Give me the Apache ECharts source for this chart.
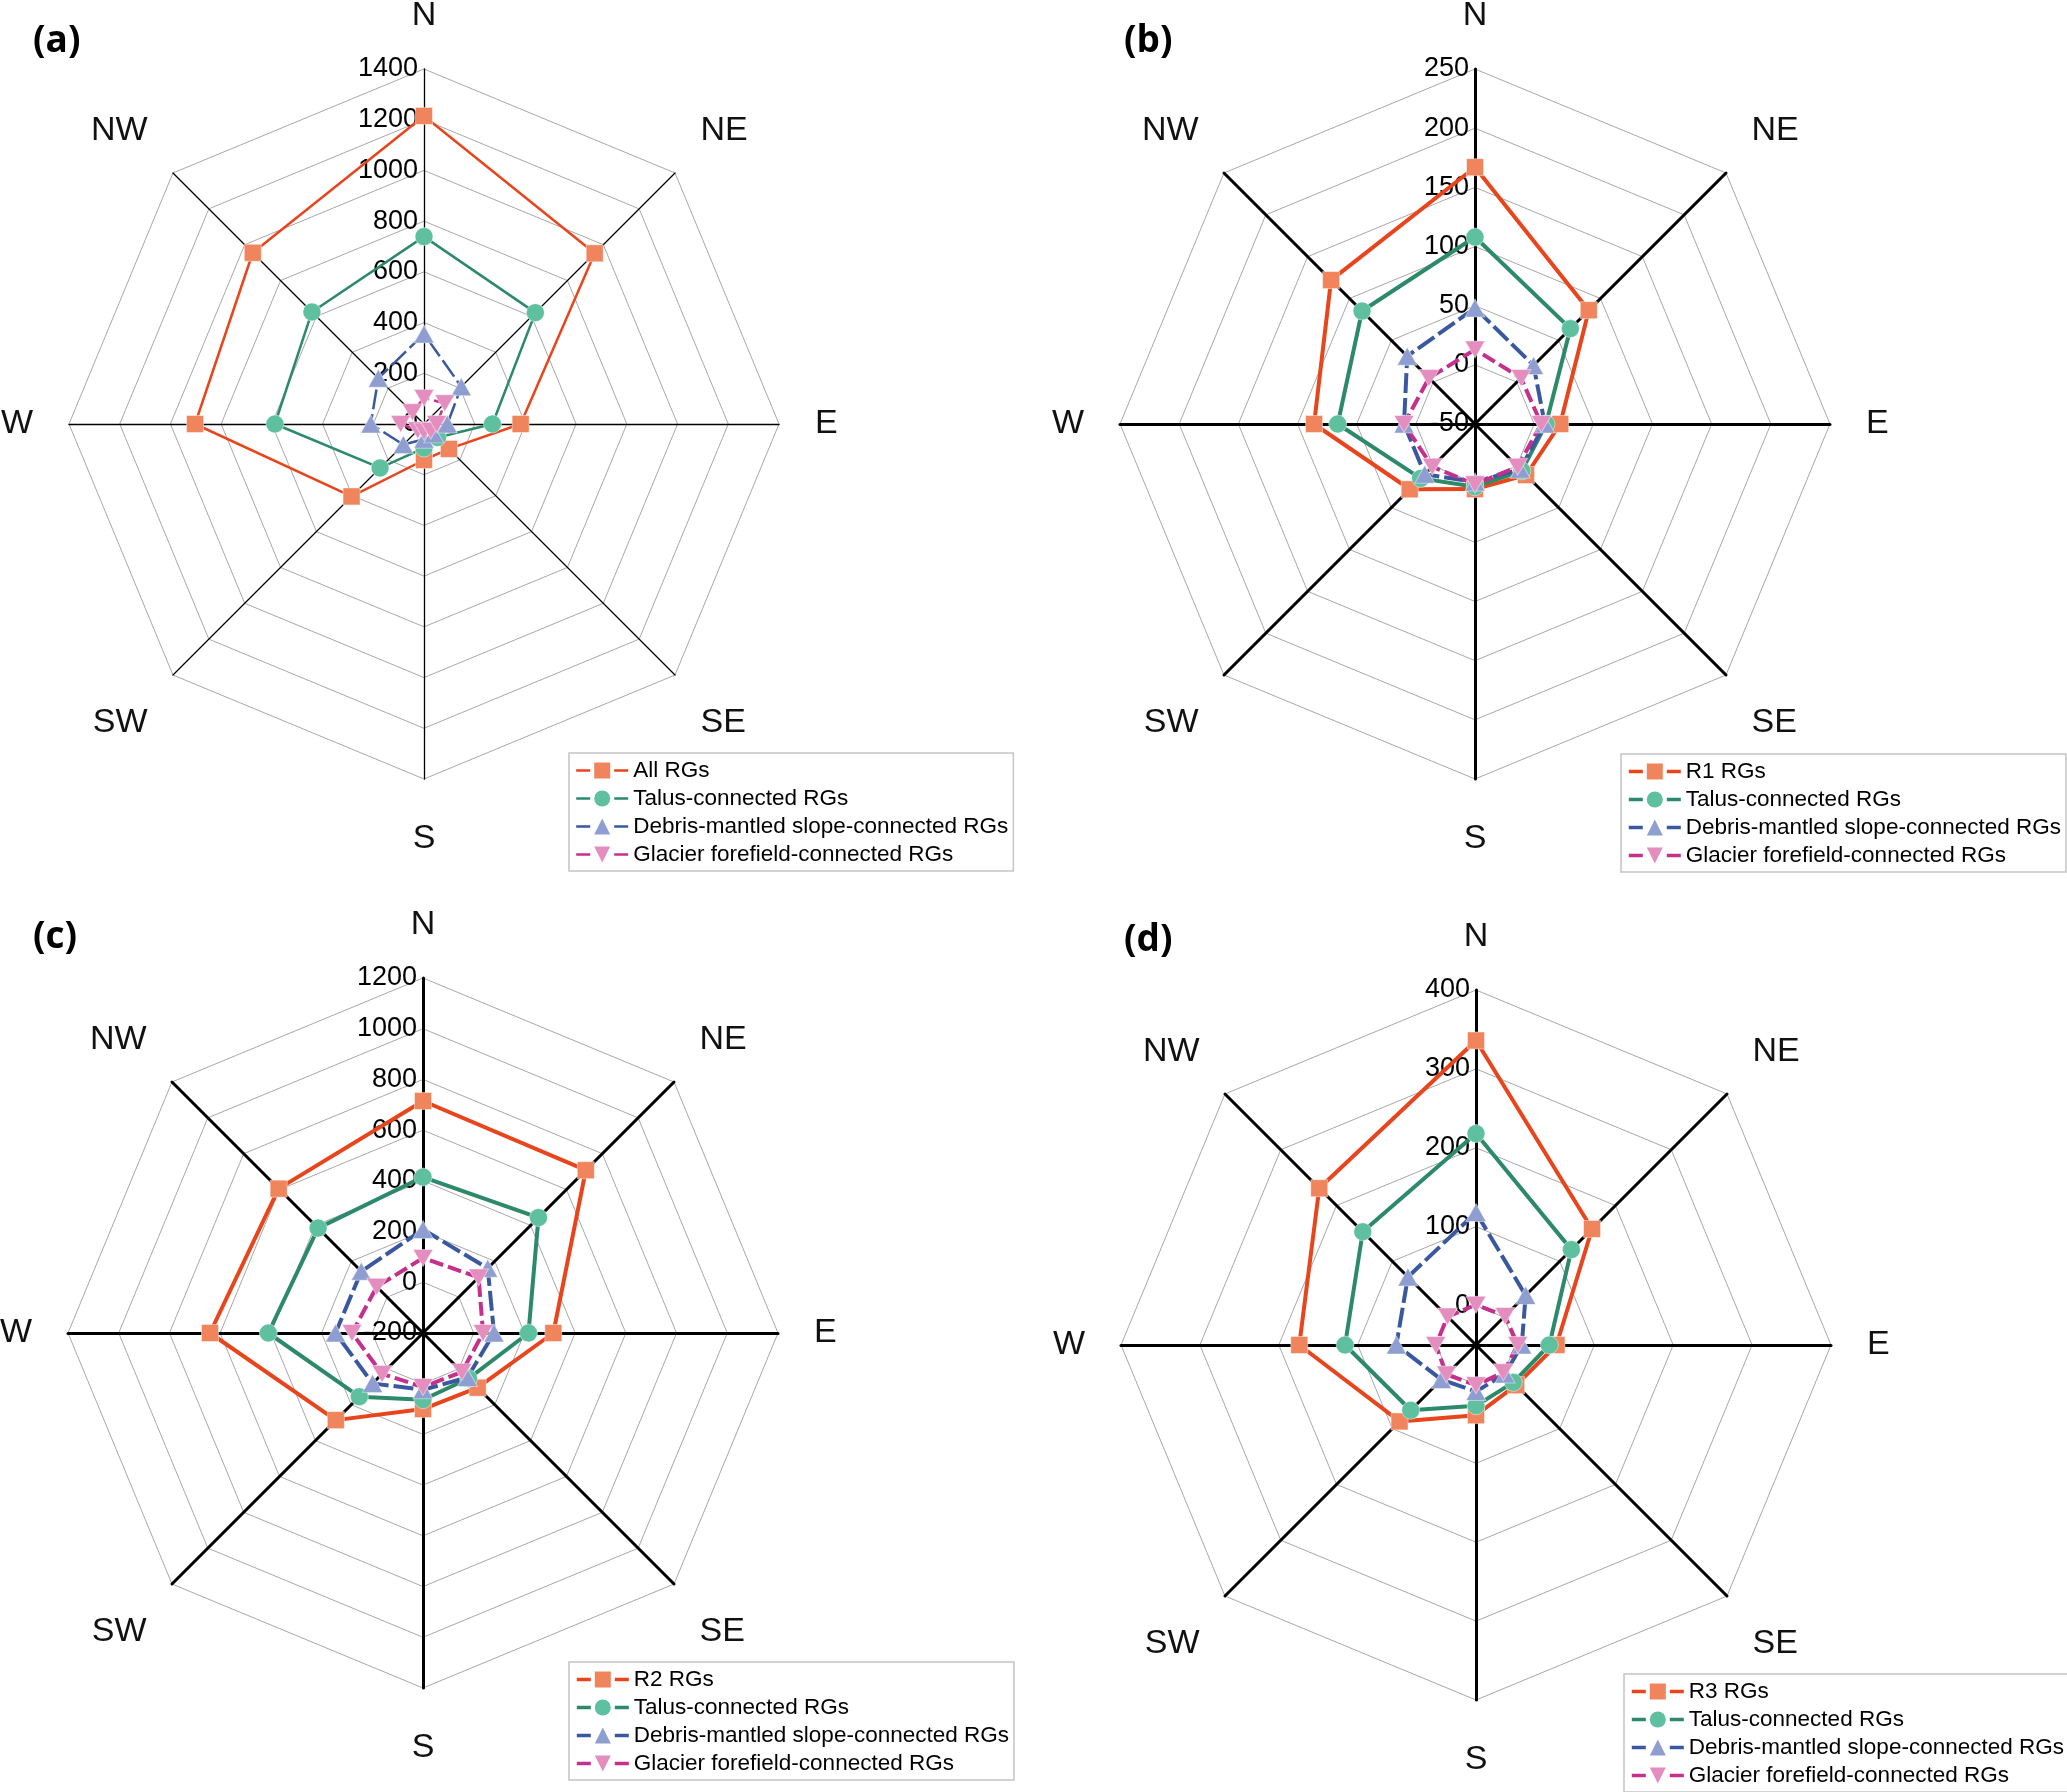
<!DOCTYPE html>
<html><head><meta charset="utf-8">
<script src="https://cdn.jsdelivr.net/npm/echarts@6/dist/echarts.min.js"></script>
<style>html,body{margin:0;padding:0;background:#fff}#c{width:2067px;height:1792px}</style>
</head><body><div id="c"></div>
<script>
// Compass order of every value array: N, NE, E, SE, S, SW, W, NW
const directions = ['N', 'NE', 'E', 'SE', 'S', 'SW', 'W', 'NW'];
const panelLetters = ['(a)', '(b)', '(c)', '(d)'];
const totalNames = ['All RGs', 'R1 RGs', 'R2 RGs', 'R3 RGs'];
const groupNames = ['Talus-connected RGs', 'Debris-mantled slope-connected RGs', 'Glacier forefield-connected RGs'];

const aAll     = [1215, 952, 381, 139, 142, 404, 903, 955];
const aTalus   = [739, 621, 270, 75, 95, 245, 588, 625];
const aDebris  = [355, 208, 92, 55, 60, 115, 210, 255];
const aGlacier = [103, 116, 50, 38, 30, 35, 92, 65];

const bAll     = [167, 86, 22, 11, 5, 28, 86, 122];
const bTalus   = [108, 64, 10, 6, 3, 15, 66, 85];
const bDebris  = [48, 20, 9, 4, -1, 10, 10, 31];
const bGlacier = [13, 5, 6, 1, 1, 1, 10, 5];

const cAll     = [715, 708, 314, 105, 100, 286, 640, 605];
const cTalus   = [415, 444, 216, 54, 63, 155, 410, 385];
const cDebris  = [208, 161, 80, 48, 24, 81, 145, 144];
const cGlacier = [96, 110, 37, 17, 13, 28, 80, 58];

const dAll     = [336, 158, 52, 22, 39, 87, 174, 231];
const dTalus   = [218, 121, 43, 17, 27, 67, 116, 153];
const dDebris  = [118, 39, 8, 2, 9, 12, 51, 72];
const dGlacier = [1, 2, 3, -1, 1, 3, 1, 1];

const axisMin = [0, -50, -200, -50];
const axisMax = [1400, 250, 1200, 400];
const splitCounts = [7, 6, 7, 9];
const tickLabelsA = ['0', '200', '400', '600', '800', '1000', '1200', '1400'];
const tickLabelsB = ['-50', '0', '50', '100', '150', '200', '250'];
const tickLabelsC = ['-200', '0', '200', '400', '600', '800', '1000', '1200'];
const tickLabelsD = ['0', '100', '200', '300', '400'];

const panelValues = [
  [aAll, aTalus, aDebris, aGlacier],
  [bAll, bTalus, bDebris, bGlacier],
  [cAll, cTalus, cDebris, cGlacier],
  [dAll, dTalus, dDebris, dGlacier]
];
const panelTicks = [tickLabelsA, tickLabelsB, tickLabelsC, tickLabelsD];

// ---- layout & style (not data) ----
const centers = [[424, 424], [1475, 424], [423, 1333], [1476, 1345]];
const radius = 355;
const titlePos = [[28, 18], [1119, 18], [28, 914], [1119, 917]];
const legendPos = [[569, 753], [1621, 754], [569, 1662], [1624, 1674]];
const FONT = '"Liberation Sans", Arial, sans-serif';
const lineColors = ['#E8451C', '#2C8A68', '#3A58A0', '#C4308A'];
const markColors = ['#F0845C', '#5EC09E', '#8E9ED0', '#E38EBE'];
const symbols = ['rect', 'circle', 'triangle', 'path://M0,0 L10,0 L5,9 Z'];
const symbolSizes = [17, 18, [20, 18], [20, 17]];
const dashes = ['solid', 'solid', [20, 5], [14, 5]];
// radar places indicators counter-clockwise starting at the top
const radarOrder = [0, 7, 6, 5, 4, 3, 2, 1];
const reorder = arr => radarOrder.map(i => arr[i]);

const chart = echarts.init(document.getElementById('c'), null, {renderer: 'canvas'});

const nameStyle = {fontSize: 34, fontFamily: FONT, color: '#111'};
const radars = [], series = [], legends = [], titles = [];
for (let p = 0; p < 4; p++) {
  const thin = p === 0;
  const ticks = panelTicks[p];
  radars.push({
    center: centers[p], radius: radius, startAngle: 90, shape: 'polygon',
    splitNumber: splitCounts[p],
    nameGap: 36,
    axisName: Object.assign({}, nameStyle, {
      formatter: name => (name === 'NE' || name === 'NW') ? '{u|' + name + '}' :
                         (name === 'SE' || name === 'SW') ? '{d|' + name + '}' :
                         name === 'S' ? '{s|' + name + '}' : name,
      rich: {
        u: Object.assign({padding: [0, 0, 34, 0]}, nameStyle),
        d: Object.assign({padding: [44, 0, 0, 0]}, nameStyle),
        s: Object.assign({padding: [7, 0, 0, 0]}, nameStyle)
      }
    }),
    axisLine: {lineStyle: {color: '#000', width: thin ? 1.3 : 3}},
    axisTick: {show: false},
    axisLabel: {show: false},
    splitLine: {lineStyle: {color: p === 3 ? ['transparent', '#a8a8a8'] : '#a8a8a8', width: 1}},
    splitArea: {show: false},
    indicator: radarOrder.map((i, k) => {
      const ind = {name: directions[i], min: axisMin[p], max: axisMax[p]};
      if (k === 0) {
        ind.axisLabel = {
          show: true, color: '#000', fontSize: 27, fontFamily: FONT, margin: 6,
          formatter: v => ticks.includes(String(v)) ? String(v) : ''
        };
      }
      return ind;
    })
  });

  const names = [totalNames[p]].concat(groupNames);
  const vals = panelValues[p];
  series.push({
    type: 'radar', radarIndex: p, silent: true,
    emphasis: {disabled: true},
    data: names.map((nm, s) => ({
      name: nm,
      value: reorder(vals[s]),
      symbol: symbols[s],
      symbolSize: symbolSizes[s],
      lineStyle: {color: lineColors[s], width: thin ? 2.5 : 4, type: dashes[s]},
      itemStyle: {color: markColors[s], borderColor: 'rgba(255,255,255,0.45)', borderWidth: 1}
    }))
  });

  legends.push({
    data: names, orient: 'vertical', left: legendPos[p][0], top: legendPos[p][1],
    selectedMode: false, itemWidth: 52, itemHeight: 20, itemGap: 5,
    padding: [6, 5, 5, 6], borderColor: '#c4c4c4', borderWidth: 1.5, backgroundColor: '#fff',
    lineStyle: {type: [14, 24, 14], width: thin ? 2.4 : 3.6},
    itemStyle: {borderWidth: 0},
    textStyle: {fontSize: 22.5, fontFamily: FONT, color: '#000'}
  });

  titles.push({
    text: panelLetters[p], left: titlePos[p][0], top: titlePos[p][1],
    textStyle: {fontSize: 37, fontFamily: '"Open Sans", "Noto Sans", sans-serif', fontWeight: 'bold', color: '#000'}
  });
}

// Empty line series that only supply the line + marker legend icons
const legendNames = totalNames.concat(groupNames);
legendNames.forEach((nm, k) => {
  const s = k < totalNames.length ? 0 : k - totalNames.length + 1;
  series.push({
    type: 'line', name: nm, data: [], xAxisIndex: 0, yAxisIndex: 0, silent: true,
    symbol: symbols[s], symbolSize: 14,
    lineStyle: {color: lineColors[s], width: 3},
    itemStyle: {color: markColors[s]}
  });
});

chart.setOption({
  backgroundColor: '#fff',
  animation: false,
  title: titles,
  grid: {left: 0, top: 0, width: 1, height: 1, show: false},
  xAxis: {type: 'category', show: false, data: []},
  yAxis: {type: 'value', show: false},
  radar: radars,
  legend: legends,
  series: series
});
</script>
</body></html>
